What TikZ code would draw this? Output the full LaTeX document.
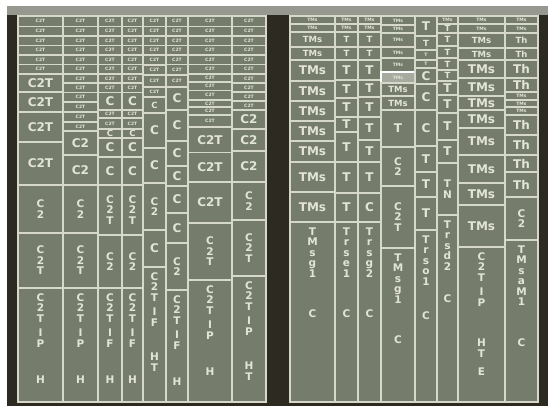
\documentclass[tikz,border=0pt]{standalone}
\usepackage{fontspec}
\setmainfont{DejaVu Sans}
\usepackage{xcolor}
\usepackage{tikz}
\usetikzlibrary{positioning}
\definecolor{FrameDark}{HTML}{2D2A21}
\definecolor{TopBand}{HTML}{979991}
\definecolor{PanelFill}{HTML}{767C6C}
\definecolor{GridLine}{HTML}{D6D9CA}
\definecolor{LabelInk}{HTML}{E2E5D6}
\tikzset{
  every picture/.style={line width=1.2pt},
  cellbox/.style={
    draw=GridLine,
    fill=PanelFill,
    inner sep=0pt,
    outer sep=0pt,
    align=center,
    text=LabelInk,
    font=\fontsize{12}{13}\selectfont\bfseries
  },
  tcell/.style={cellbox, font=\fontsize{4.5}{5}\selectfont\bfseries},
  scell/.style={cellbox, font=\fontsize{8.5}{9}\selectfont\bfseries},
  mcell/.style={cellbox},
  vcell/.style={cellbox, font=\fontsize{10.5}{10.5}\selectfont\bfseries},
  hicell/.style={tcell, draw=white, line width=1.8pt, fill=PanelFill!65!white},
  stacklabel/.style={align=center, text=LabelInk, inner sep=0pt, font=\fontsize{10.5}{10.5}\selectfont\bfseries}
}
\newcommand{\cellcolumn}[4]{%
  \foreach \ya/\yb/\kind/\txt [count=\k] in {#4} {
    \node[\kind, minimum width={(#3-#2)*1pt}, minimum height={(\yb-\ya)*1pt}]
      (#1-\k) at ({(#2+#3)/2},{(\ya+\yb)/2}) {\txt};
  }
}
\newcommand{\tallcell}[5]{%
  \node[cellbox, minimum width={(#3-#2)*1pt}, minimum height={(402-#4)*1pt}]
    (#1-base) at ({(#2+#3)/2},{(#4+402)/2}) {};
  \node[stacklabel, below=5pt of #1-base.north] (#1-text) {#5};
}

\begin{document}
\begin{tikzpicture}[x=1pt,y=-1pt]
  \useasboundingbox (0,0) rectangle (550,406);
  \fill[white] (0,0) rectangle (550,406);
  \fill[FrameDark] (7,6) rectangle (548,406);
  \fill[TopBand] (7,6) rectangle (548,15);
  \fill[PanelFill] (18,16) rectangle (266,402);
  \fill[PanelFill] (290,16) rectangle (538,402);

  % left panel
  \cellcolumn{L1}{18}{63}{16/26.5/tcell/C2T, 26.5/36/tcell/C2T, 36/45.5/tcell/C2T,
    45.5/55/tcell/C2T, 55/64.5/tcell/C2T, 64.5/74/tcell/C2T, 74/92/mcell/C2T,
    92/112/mcell/C2T, 112/142/mcell/C2T, 142/185/mcell/C2T,
    185/233/vcell/{C\\2}, 233/288/vcell/{C\\2\\T}}
  \tallcell{L1}{18}{63}{288}{C\\2\\T\\[4pt]I\\P\\[26pt]H}

  \cellcolumn{L2}{63}{98}{16/26.5/tcell/C2T, 26.5/36/tcell/C2T, 36/45.5/tcell/C2T,
    45.5/55/tcell/C2T, 55/64.5/tcell/C2T, 64.5/74/tcell/C2T, 74/83/tcell/C2T,
    83/92.5/tcell/C2T, 92.5/102/tcell/C2T, 102/112/tcell/C2T, 112/122/tcell/C2T,
    122/131/tcell/C2T, 131/155/mcell/C2, 155/185/mcell/C2,
    185/233/vcell/{C\\2}, 233/288/vcell/{C\\2\\T}}
  \tallcell{L2}{63}{98}{288}{C\\2\\T\\[4pt]I\\P\\[26pt]H}

  \foreach \col/\xa/\xb in {L3/98/122, L4/122/143} {
    \cellcolumn{\col}{\xa}{\xb}{16/26.5/tcell/C2T, 26.5/36/tcell/C2T, 36/45.5/tcell/C2T,
      45.5/55/tcell/C2T, 55/64.5/tcell/C2T, 64.5/74/tcell/C2T, 74/83/tcell/C2T,
      83/92.5/tcell/C2T, 92.5/110/mcell/C, 110/118/tcell/C2T, 118/129/tcell/C2T,
      129/138/scell/C, 138/157/mcell/C, 157/185/mcell/C,
      185/235/vcell/{C\\2\\T}, 235/288/vcell/{C\\2}}
    \tallcell{\col}{\xa}{\xb}{288}{C\\2\\T\\[4pt]I\\F\\[26pt]H}
  }

  \cellcolumn{L5}{143}{166}{16/26.5/tcell/C2T, 26.5/36/tcell/C2T, 36/45.5/tcell/C2T,
    45.5/55/tcell/C2T, 55/65/tcell/C2T, 65/75/tcell/C2T, 75/87/tcell/C2T,
    87/97/tcell/C2T, 97/113/scell/C, 113/148/mcell/C, 148/183/mcell/C,
    183/230/vcell/{C\\2}, 230/267/mcell/C}
  \tallcell{L5}{143}{166}{267}{C\\2\\T\\[4pt]I\\F\\[24pt]H\\T}

  \cellcolumn{L6}{166}{188}{16/26.5/tcell/C2T, 26.5/36/tcell/C2T, 36/45.5/tcell/C2T,
    45.5/55/tcell/C2T, 55/64.5/tcell/C2T, 64.5/75/tcell/C2T, 75/87/tcell/C2T,
    87/110/mcell/C, 110/141/mcell/C, 141/166/mcell/C, 166/186/mcell/C,
    186/213/mcell/C, 213/243/mcell/C, 243/290/vcell/{C\\2}}
  \tallcell{L6}{166}{188}{290}{C\\2\\T\\[4pt]I\\F\\[26pt]H}

  \cellcolumn{L7}{188}{232}{16/26.5/tcell/C2T, 26.5/36/tcell/C2T, 36/45.5/tcell/C2T,
    45.5/55/tcell/C2T, 55/64.5/tcell/C2T, 64.5/74/tcell/C2T, 74/82/tcell/C2T,
    82/90.5/tcell/C2T, 90.5/100/tcell/C2T, 100/107/tcell/C2T, 107/115/tcell/C2T,
    115/127/tcell/C2T, 127/152.5/mcell/C2T, 152.5/182/mcell/C2T, 182/223/mcell/C2T,
    223/280/vcell/{C\\2\\T}}
  \tallcell{L7}{188}{232}{280}{C\\2\\T\\[4pt]I\\P\\[26pt]H}

  \cellcolumn{L8}{232}{266}{16/26.5/tcell/C2T, 26.5/36/tcell/C2T, 36/45.5/tcell/C2T,
    45.5/55/tcell/C2T, 55/64.5/tcell/C2T, 64.5/74/tcell/C2T, 74/83/tcell/C2T,
    83/92/tcell/C2T, 92/101/tcell/C2T, 101/110/tcell/C2T, 110/129/mcell/C2,
    129/151/mcell/C2, 151/182/mcell/C2, 182/220/vcell/{C\\2}, 220/276/vcell/{C\\2\\T}}
  \tallcell{L8}{232}{266}{276}{C\\2\\T\\[4pt]I\\P\\[24pt]H\\T}

  % right panel
  \cellcolumn{R1}{290}{335}{16/24/tcell/TMs, 24/32/tcell/TMs, 32/47/scell/TMs,
    47/60/scell/TMs, 60/81/mcell/TMs, 81/101/mcell/TMs, 101/121/mcell/TMs,
    121/141/mcell/TMs, 141/162/mcell/TMs, 162/192/mcell/TMs, 192/222/mcell/TMs}
  \tallcell{R1}{290}{335}{222}{T\\M\\s\\g\\1\\[30pt]C}

  \cellcolumn{R2}{335}{358}{16/24/tcell/TMs, 24/32/tcell/TMs, 32/47/scell/T,
    47/60/scell/T, 60/80/mcell/T, 80/98/mcell/T, 98/117/mcell/T, 117/132/mcell/T,
    132/162/mcell/T, 162/193/mcell/T, 193/222/mcell/T}
  \tallcell{R2}{335}{358}{222}{T\\r\\s\\e\\1\\[30pt]C}

  \cellcolumn{R3}{358}{381}{16/24/tcell/TMs, 24/32/tcell/TMs, 32/47/scell/T,
    47/60/scell/T, 60/80/mcell/T, 80/97/mcell/T, 97/117/mcell/T, 117/140/mcell/T,
    140/162/mcell/T, 162/193/mcell/T, 193/222/mcell/C}
  \tallcell{R3}{358}{381}{222}{T\\r\\s\\g\\2\\[30pt]C}

  \cellcolumn{R4}{381}{415}{16/25/tcell/TMs, 25/33/tcell/TMs, 33/47/tcell/TMs,
    47/58/tcell/TMs, 58/72/tcell/TMs, 72/83/hicell/TMs, 83/96/scell/TMs,
    96/110/scell/TMs, 110/147/mcell/T, 147/186/vcell/{C\\2}, 186/248/vcell/{C\\2\\T}}
  \tallcell{R4}{381}{415}{248}{T\\M\\s\\g\\1\\[30pt]C}

  \cellcolumn{R5}{415}{437}{16/36/mcell/T, 36/50/scell/T, 50/60/tcell/T,
    60/68/tcell/T, 68/84/mcell/C, 84/110/mcell/C, 110/146/mcell/C,
    146/172/mcell/T, 172/197/mcell/T, 197/230/mcell/T}
  \tallcell{R5}{415}{437}{230}{T\\r\\s\\o\\1\\[24pt]C}

  \cellcolumn{R6}{437}{458}{16/24/tcell/TMs, 24/33/scell/T, 33/46/scell/T,
    46/58/scell/T, 58/70/scell/T, 70/81/scell/T, 81/95/mcell/T, 95/113/mcell/T,
    113/140/mcell/T, 140/163/mcell/T, 163/215/vcell/{T\\N}}
  \tallcell{R6}{437}{458}{215}{T\\r\\s\\d\\2\\[22pt]C}

  \cellcolumn{R7}{458}{505}{16/24/tcell/TMs, 24/33/tcell/TMs, 33/48/scell/TMs,
    48/60/scell/TMs, 60/78/mcell/TMs, 78/96/mcell/TMs, 96/110/mcell/TMs,
    110/128/mcell/TMs, 128/155/mcell/TMs, 155/183/mcell/TMs, 183/205/mcell/TMs,
    205/247/mcell/TMs}
  \tallcell{R7}{458}{505}{247}{C\\2\\T\\[4pt]I\\P\\[30pt]H\\T\\[8pt]E}

  \cellcolumn{R8}{505}{538}{16/24/tcell/TMs, 24/33/tcell/TMs, 33/48/scell/Th,
    48/60/scell/Th, 60/78/mcell/Th, 78/92/mcell/Th, 92/100/tcell/TMs,
    100/107/tcell/TMs, 107/115/tcell/TMs, 115/135/mcell/Th, 135/155/mcell/Th,
    155/172/mcell/Th, 172/197/mcell/Th, 197/240/vcell/{C\\2}}
  \tallcell{R8}{505}{538}{240}{T\\M\\s\\a\\M\\1\\[30pt]C}
\end{tikzpicture}
\end{document}
